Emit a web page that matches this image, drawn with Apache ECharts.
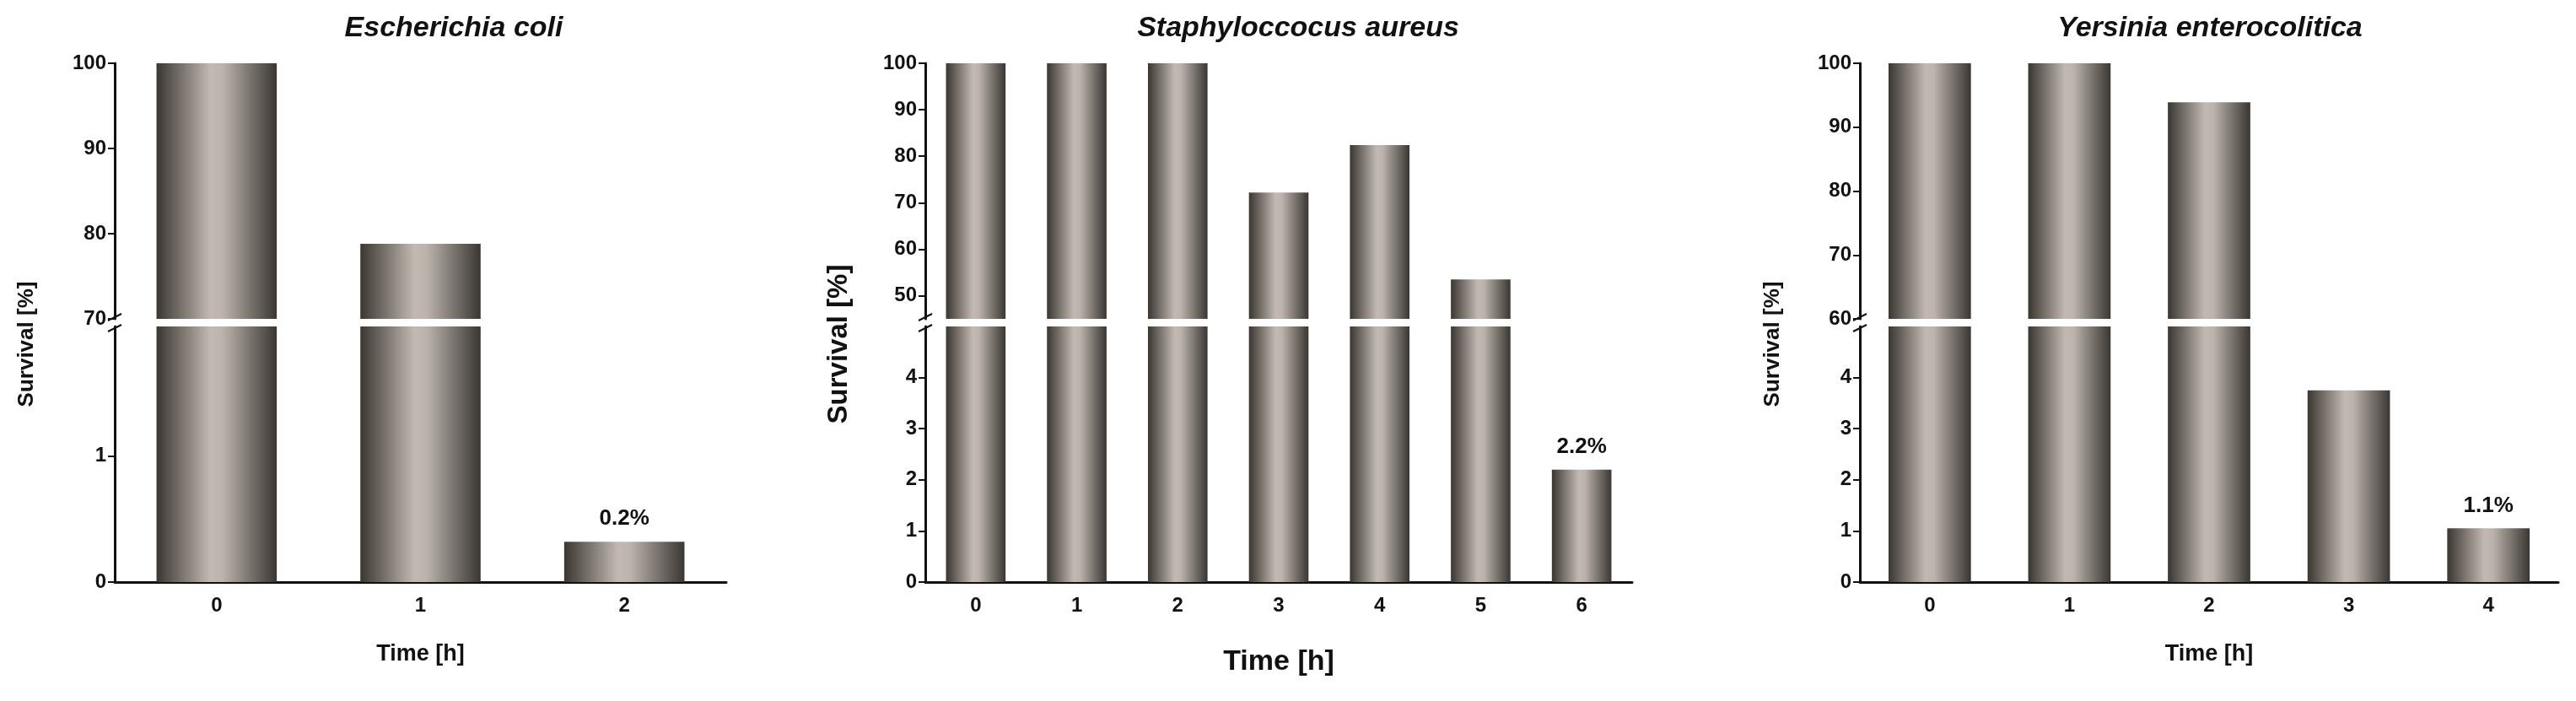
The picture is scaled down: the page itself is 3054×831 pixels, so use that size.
<!DOCTYPE html>
<html>
<head>
<meta charset="UTF-8">
<title>Survival</title>
<script src="https://cdn.jsdelivr.net/npm/echarts@6/dist/echarts.min.js"></script>
<style>
  html, body { margin: 0; padding: 0; background: #fff; }
  #main { width: 3054px; height: 831px; }
</style>
</head>
<body>
<div id="main"></div>
<script>
// data
var titles = ['Escherichia coli', 'Staphyloccocus aureus', 'Yersinia enterocolitica'];
var ecoliTimes = ['0', '1', '2'];
var ecoliSurvival = [100, 78.8, 0.32];
var ecoliNotes = ['', '', '0.2%'];
var saureusTimes = ['0', '1', '2', '3', '4', '5', '6'];
var saureusSurvival = [100, 100, 100, 72.2, 82.4, 53.5, 2.2];
var saureusNotes = ['', '', '', '', '', '', '2.2%'];
var yersTimes = ['0', '1', '2', '3', '4'];
var yersSurvival = [100, 100, 93.9, 3.75, 1.05];
var yersNotes = ['', '', '', '', '1.1%'];
// upper / lower tick labels
var ecoliUpperTicks = [70, 80, 90, 100];
var ecoliLowerTicks = [0, 1];
var saureusUpperTicks = [50, 60, 70, 80, 90, 100];
var saureusLowerTicks = [0, 1, 2, 3, 4];
var yersUpperTicks = [60, 70, 80, 90, 100];
var yersLowerTicks = [0, 1, 2, 3, 4];

// layout of each panel (pixels)
var panels = [
  { times: ecoliTimes, vals: ecoliSurvival, notes: ecoliNotes, upTicks: ecoliUpperTicks, loTicks: ecoliLowerTicks,
    upMin: 70, loMax: 2.03, left: 136, right: 2193, titleX: 533, yNameX: 32, yNameSize: 26, xNameSize: 27, xGap: 72 },
  { times: saureusTimes, vals: saureusSurvival, notes: saureusNotes, upTicks: saureusUpperTicks, loTicks: saureusLowerTicks,
    upMin: 45, loMax: 5.0, left: 1097, right: 1119, titleX: 1534, yNameX: 995, yNameSize: 33, xNameSize: 34, xGap: 78 },
  { times: yersTimes, vals: yersSurvival, notes: yersNotes, upTicks: yersUpperTicks, loTicks: yersLowerTicks,
    upMin: 60, loMax: 5.0, left: 2205, right: 21, titleX: 2615, yNameX: 2102, yNameSize: 26, xNameSize: 27, xGap: 72 }
];

var TOP = 75, BREAK_TOP = 378, BREAK_BOT = 387, BOTTOM = 831 - 690;

var barColor = new echarts.graphic.LinearGradient(0, 0, 1, 0, [
  { offset: 0, color: '#3b3631' },
  { offset: 0.45, color: '#c2bab2' },
  { offset: 0.55, color: '#bcb4ac' },
  { offset: 1, color: '#3a3632' }
]);
var font = 'Arial, "Liberation Sans", sans-serif';

var grid = [], xAxis = [], yAxis = [], series = [], title = [], graphic = [];

panels.forEach(function (p, i) {
  var gu = i * 2, gl = i * 2 + 1;
  grid.push({ left: p.left, right: p.right, top: TOP, bottom: 831 - BREAK_TOP });
  grid.push({ left: p.left, right: p.right, top: BREAK_BOT, bottom: BOTTOM });

  xAxis.push({ type: 'category', gridIndex: gu, data: p.times, show: false });
  xAxis.push({
    type: 'category', gridIndex: gl, data: p.times,
    axisLine: { lineStyle: { color: '#111', width: 3 } },
    axisTick: { alignWithLabel: true, length: 8, lineStyle: { color: '#111', width: 2 } },
    axisLabel: { color: '#111', fontWeight: 'bold', fontSize: 24, fontFamily: font, margin: 16 },
    name: 'Time [h]', nameLocation: 'middle', nameGap: p.xGap,
    nameTextStyle: { color: '#111', fontWeight: 'bold', fontSize: p.xNameSize, fontFamily: font }
  });

  var yCommon = {
    type: 'value', splitLine: { show: false },
    axisLine: { show: true, lineStyle: { color: '#111', width: 3 } },
    axisTick: { show: true, length: 8, lineStyle: { color: '#111', width: 2 } },
    axisLabel: { color: '#111', fontWeight: 'bold', fontSize: 24, fontFamily: font, margin: 10 }
  };
  yAxis.push(Object.assign({}, yCommon, {
    gridIndex: gu, min: p.upMin, max: 100,
    axisTick: Object.assign({}, yCommon.axisTick, { customValues: p.upTicks }),
    axisLabel: Object.assign({}, yCommon.axisLabel, { customValues: p.upTicks })
  }));
  yAxis.push(Object.assign({}, yCommon, {
    gridIndex: gl, min: 0, max: p.loMax,
    axisTick: Object.assign({}, yCommon.axisTick, { customValues: p.loTicks }),
    axisLabel: Object.assign({}, yCommon.axisLabel, { customValues: p.loTicks })
  }));

  series.push({
    type: 'bar', xAxisIndex: gu, yAxisIndex: gu, barWidth: '59%',
    itemStyle: { color: barColor },
    data: p.vals.map(function (v) { return v >= p.upMin ? v : '-'; })
  });
  series.push({
    type: 'bar', xAxisIndex: gl, yAxisIndex: gl, barWidth: '59%', clip: true,
    itemStyle: { color: barColor },
    data: p.vals.map(function (v, k) {
      var item = { value: v };
      if (p.notes[k]) {
        item.label = { show: true, position: 'top', distance: 14, formatter: p.notes[k],
          color: '#111', fontWeight: 'bold', fontSize: 26, fontFamily: font };
      }
      return item;
    })
  });

  title.push({
    text: titles[i], left: p.titleX, top: 12, textAlign: 'center',
    textStyle: { fontStyle: 'italic', fontWeight: 'bold', fontSize: 34, color: '#111', fontFamily: font }
  });

  graphic.push({
    type: 'text', x: p.yNameX, y: 408, rotation: Math.PI / 2,
    style: { text: 'Survival [%]', fill: '#111', font: 'bold ' + p.yNameSize + 'px ' + font,
      align: 'center', verticalAlign: 'middle' }
  });
  // break marks on the y axis
  [BREAK_TOP - 2, BREAK_BOT + 2].forEach(function (yy) {
    graphic.push({ type: 'line', shape: { x1: p.left - 8, y1: yy + 4, x2: p.left + 8, y2: yy - 4 },
      style: { stroke: '#111', lineWidth: 2 } });
  });
});

var chart = echarts.init(document.getElementById('main'));
chart.setOption({
  animation: false,
  backgroundColor: '#fff',
  title: title, grid: grid, xAxis: xAxis, yAxis: yAxis, series: series, graphic: graphic
});
</script>
</body>
</html>
